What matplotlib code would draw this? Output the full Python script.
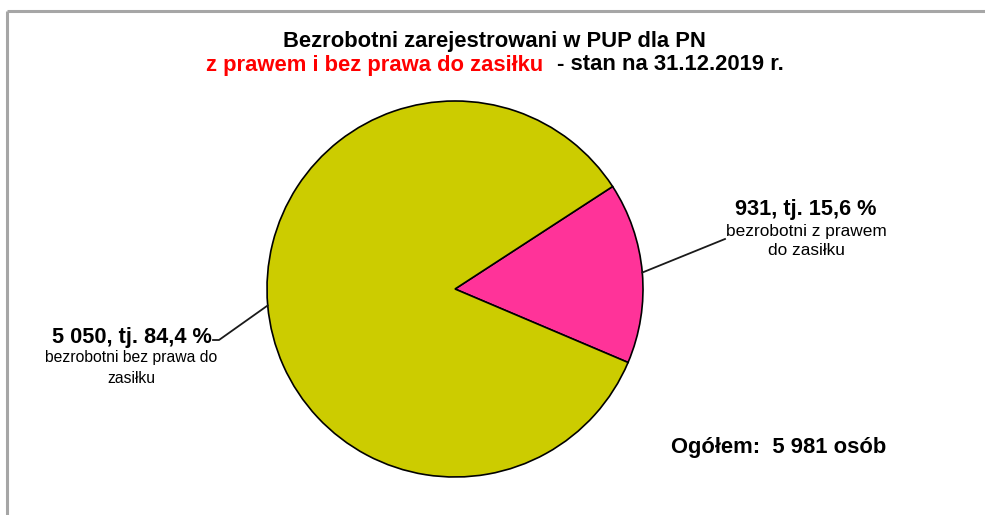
import numpy as np
import matplotlib
matplotlib.use("Agg")
import matplotlib.pyplot as plt
from matplotlib.lines import Line2D

# data
categories = ["bezrobotni z prawem\ndo zasiłku", "bezrobotni bez prawa do\nzasiłku"]
counts = [931, 5050]
colors = ["#FF3399", "#CCCC00"]
total = sum(counts)

W, H = 985, 515
fig = plt.figure(figsize=(W / 100, H / 100), dpi=100)
fig.patch.set_facecolor("white")

# pie centre and radius in pixels
cx, cy, R = 455, 289, 188
ax = fig.add_axes([(cx - R) / W, (H - cy - R) / H, 2 * R / W, 2 * R / H])
wedges, _ = ax.pie(counts, colors=colors, startangle=-23, counterclock=True,
                   radius=1, wedgeprops=dict(edgecolor="black", linewidth=1.2))
ax.set_xlim(-1, 1)
ax.set_ylim(-1, 1)
ax.axis("off")

# overlay in pixel coordinates for frame, texts and leaders
ov = fig.add_axes([0, 0, 1, 1], zorder=5)
ov.set_xlim(0, W)
ov.set_ylim(H, 0)
ov.axis("off")
ov.patch.set_alpha(0)

frame = dict(color="#A6A6A6", linewidth=2.2, solid_capstyle="butt")
ov.add_line(Line2D([6.5, W], [10.5, 10.5], **frame))
ov.add_line(Line2D([6.5, 6.5], [10.5, H], **frame))

sans = ["Liberation Sans", "DejaVu Sans"]

ov.text(494, 41, "Bezrobotni zarejestrowani w PUP dla PN", ha="center", va="center",
        fontsize=15.8, fontweight="bold", family=sans)
ov.text(543, 65, "z prawem i bez prawa do zasiłku", ha="right", va="center",
        fontsize=15.8, fontweight="bold", family=sans, color="#FF0000")
ov.text(557, 65, "- stan na 31.12.2019 r.", ha="left", va="center",
        fontsize=15.8, fontweight="bold", family=sans)


def fmt(n):
    return f"{n:,}".replace(",", " ")


def pct(n):
    return f"{100 * n / total:.1f}".replace(".", ",")


def edge_point(w):
    a = np.deg2rad((w.theta1 + w.theta2) / 2)
    return cx + R * np.cos(a), cy - R * np.sin(a)


# right label (with benefit)
ov.text(806, 209, f"{fmt(counts[0])}, tj. {pct(counts[0])} %", ha="center", va="center",
        fontsize=15.7, fontweight="bold", family=sans)
ov.text(806, 241, categories[0], ha="center", va="center", fontsize=12.4,
        family=sans, linespacing=1.32)
ex, ey = edge_point(wedges[0])
ov.add_line(Line2D([ex, 725], [ey, 239], color="#1a1a1a", linewidth=1.3))

# left label (without benefit)
ov.text(131, 368, categories[1], ha="center", va="center", fontsize=11.3,
        family=sans, linespacing=1.5)
ov.text(132, 337, f"{fmt(counts[1])}, tj. {pct(counts[1])} %", ha="center", va="center",
        fontsize=15.7, fontweight="bold", family=sans)
ex, ey = edge_point(wedges[1])
ov.add_line(Line2D([213, 219, ex], [340, 340, ey], color="#1a1a1a", linewidth=1.3))

ov.text(671, 447, f"Ogółem:  {fmt(total)} osób", ha="left", va="center",
        fontsize=15.8, fontweight="bold", family=sans)

fig.savefig("out.png", dpi=100, facecolor="white")
